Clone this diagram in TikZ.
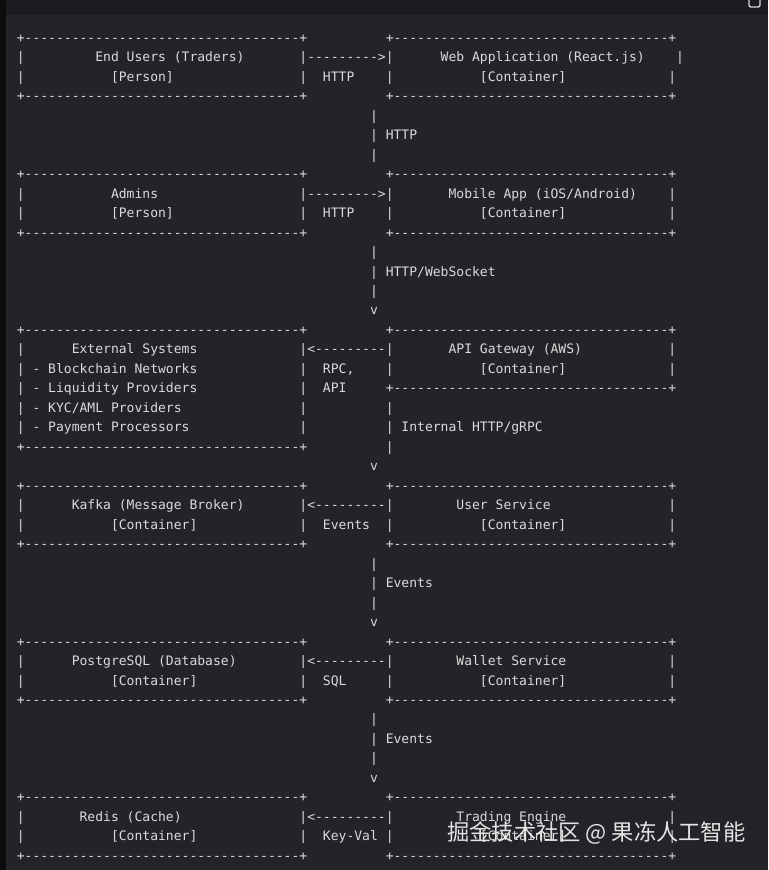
\documentclass[tikz,border=0pt]{standalone}
\usepackage{fontspec}
\setmonofont{DejaVu Sans Mono}
\newfontfamily\cjkfont{Noto Sans CJK SC}
\definecolor{bgmain}{HTML}{222428}
\definecolor{bgtop}{HTML}{1B1C1F}
\definecolor{bgleft}{HTML}{0C0C0C}
\definecolor{fg}{HTML}{DADADA}
\newcommand\dfive{-----}
\newcommand\brd{+\dfive\dfive\dfive\dfive\dfive\dfive\dfive+}
\newcommand\rarr{|--------->|}
\newcommand\larr{|<---------|}
\newcommand\asc[4]{\node[txt] (#3) at ({16.8+7.85*#1},{42.3+19.476*#2}) {#4};}
\begin{document}
\begin{tikzpicture}[x=0.75pt,y=-0.75pt,
  txt/.style={anchor=base west, inner sep=0pt, outer sep=0pt, text=fg,
    font=\ttfamily\fontsize{9.78pt}{11pt}\selectfont},
  wm/.style={anchor=west, inner sep=0pt, text=white, text opacity=0.88,
    font=\cjkfont\fontsize{16.7pt}{18pt}\selectfont},
  icon/.style={draw=fg, line width=1pt, rounded corners=1.5pt}]
\useasboundingbox (0,0) rectangle (768,870);
\fill[bgmain] (0,0) rectangle (768,870);
\fill[bgtop] (0,0) rectangle (768,15);
\fill[bgleft] (0,0) rectangle (6,870);
\draw[icon] (749,-4) rectangle (760,7);
% row 0-3
\asc{0}{0}{r0a}{\brd}\asc{47}{0}{r0b}{\brd}
\asc{0}{1}{r1a}{|}\asc{10}{1}{r1b}{End Users (Traders)}\asc{36}{1}{r1c}{\rarr}\asc{54}{1}{r1d}{Web Application (React.js)}\asc{84}{1}{r1e}{|}
\asc{0}{2}{r2a}{|}\asc{12}{2}{r2b}{[Person]}\asc{36}{2}{r2c}{|}\asc{39}{2}{r2d}{HTTP}\asc{47}{2}{r2e}{|}\asc{59}{2}{r2f}{[Container]}\asc{83}{2}{r2g}{|}
\asc{0}{3}{r3a}{\brd}\asc{47}{3}{r3b}{\brd}
\asc{45}{4}{r4a}{|}
\asc{45}{5}{r5a}{|}\asc{47}{5}{r5b}{HTTP}
\asc{45}{6}{r6a}{|}
% row 7-10
\asc{0}{7}{r7a}{\brd}\asc{47}{7}{r7b}{\brd}
\asc{0}{8}{r8a}{|}\asc{12}{8}{r8b}{Admins}\asc{36}{8}{r8c}{\rarr}\asc{55}{8}{r8d}{Mobile App (iOS/Android)}\asc{83}{8}{r8e}{|}
\asc{0}{9}{r9a}{|}\asc{12}{9}{r9b}{[Person]}\asc{36}{9}{r9c}{|}\asc{39}{9}{r9d}{HTTP}\asc{47}{9}{r9e}{|}\asc{59}{9}{r9f}{[Container]}\asc{83}{9}{r9g}{|}
\asc{0}{10}{r10a}{\brd}\asc{47}{10}{r10b}{\brd}
\asc{45}{11}{r11a}{|}
\asc{45}{12}{r12a}{|}\asc{47}{12}{r12b}{HTTP/WebSocket}
\asc{45}{13}{r13a}{|}
\asc{45}{14}{r14a}{v}
% row 15-21
\asc{0}{15}{r15a}{\brd}\asc{47}{15}{r15b}{\brd}
\asc{0}{16}{r16a}{|}\asc{7}{16}{r16b}{External Systems}\asc{36}{16}{r16c}{\larr}\asc{55}{16}{r16d}{API Gateway (AWS)}\asc{83}{16}{r16e}{|}
\asc{0}{17}{r17a}{|}\asc{2}{17}{r17b}{- Blockchain Networks}\asc{36}{17}{r17c}{|}\asc{39}{17}{r17d}{RPC,}\asc{47}{17}{r17e}{|}\asc{59}{17}{r17f}{[Container]}\asc{83}{17}{r17g}{|}
\asc{0}{18}{r18a}{|}\asc{2}{18}{r18b}{- Liquidity Providers}\asc{36}{18}{r18c}{|}\asc{39}{18}{r18d}{API}\asc{47}{18}{r18e}{\brd}
\asc{0}{19}{r19a}{|}\asc{2}{19}{r19b}{- KYC/AML Providers}\asc{36}{19}{r19c}{|}\asc{47}{19}{r19d}{|}
\asc{0}{20}{r20a}{|}\asc{2}{20}{r20b}{- Payment Processors}\asc{36}{20}{r20c}{|}\asc{47}{20}{r20d}{| Internal HTTP/gRPC}
\asc{0}{21}{r21a}{\brd}\asc{47}{21}{r21b}{|}
\asc{45}{22}{r22a}{v}
% row 23-26
\asc{0}{23}{r23a}{\brd}\asc{47}{23}{r23b}{\brd}
\asc{0}{24}{r24a}{|}\asc{7}{24}{r24b}{Kafka (Message Broker)}\asc{36}{24}{r24c}{\larr}\asc{56}{24}{r24d}{User Service}\asc{83}{24}{r24e}{|}
\asc{0}{25}{r25a}{|}\asc{12}{25}{r25b}{[Container]}\asc{36}{25}{r25c}{|}\asc{39}{25}{r25d}{Events}\asc{47}{25}{r25e}{|}\asc{59}{25}{r25f}{[Container]}\asc{83}{25}{r25g}{|}
\asc{0}{26}{r26a}{\brd}\asc{47}{26}{r26b}{\brd}
\asc{45}{27}{r27a}{|}
\asc{45}{28}{r28a}{| Events}
\asc{45}{29}{r29a}{|}
\asc{45}{30}{r30a}{v}
% row 31-34
\asc{0}{31}{r31a}{\brd}\asc{47}{31}{r31b}{\brd}
\asc{0}{32}{r32a}{|}\asc{7}{32}{r32b}{PostgreSQL (Database)}\asc{36}{32}{r32c}{\larr}\asc{56}{32}{r32d}{Wallet Service}\asc{83}{32}{r32e}{|}
\asc{0}{33}{r33a}{|}\asc{12}{33}{r33b}{[Container]}\asc{36}{33}{r33c}{|}\asc{39}{33}{r33d}{SQL}\asc{47}{33}{r33e}{|}\asc{59}{33}{r33f}{[Container]}\asc{83}{33}{r33g}{|}
\asc{0}{34}{r34a}{\brd}\asc{47}{34}{r34b}{\brd}
\asc{45}{35}{r35a}{|}
\asc{45}{36}{r36a}{| Events}
\asc{45}{37}{r37a}{|}
\asc{45}{38}{r38a}{v}
% row 39-42
\asc{0}{39}{r39a}{\brd}\asc{47}{39}{r39b}{\brd}
\asc{0}{40}{r40a}{|}\asc{8}{40}{r40b}{Redis (Cache)}\asc{36}{40}{r40c}{\larr}\asc{56}{40}{r40d}{Trading Engine}\asc{83}{40}{r40e}{|}
\asc{0}{41}{r41a}{|}\asc{12}{41}{r41b}{[Container]}\asc{36}{41}{r41c}{|}\asc{39}{41}{r41d}{Key-Val}\asc{47}{41}{r41e}{|}\asc{59}{41}{r41f}{[Container]}\asc{83}{41}{r41g}{|}
\asc{0}{42}{r42a}{\brd}\asc{47}{42}{r42b}{\brd}
% watermark
\node[wm] (wm) at (447,833) {掘金技术社区 @ 果冻人工智能};
\end{tikzpicture}
\end{document}
